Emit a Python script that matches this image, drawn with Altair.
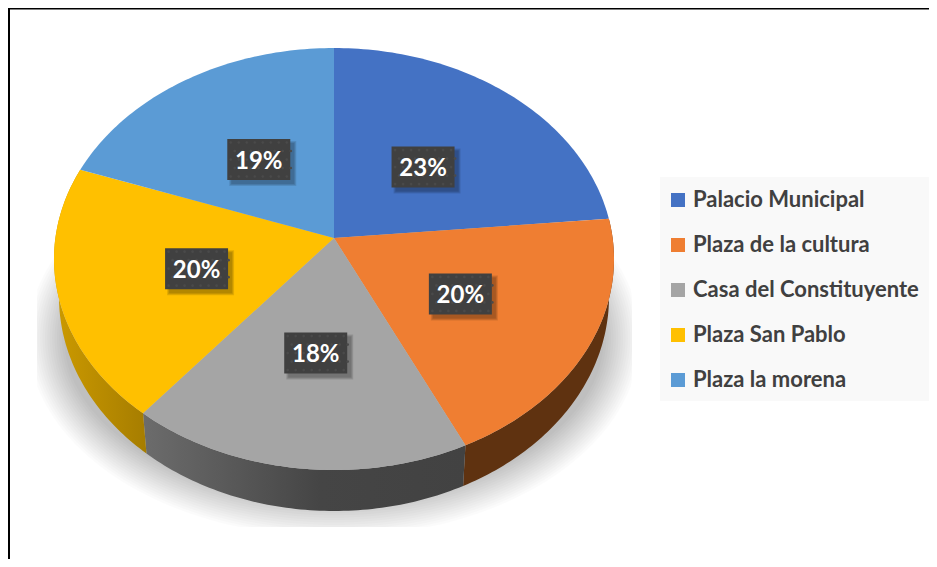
import math
import altair as alt
import pandas as pd

names = ["Palacio Municipal", "Plaza de la cultura", "Casa del Constituyente", "Plaza San Pablo", "Plaza la morena"]
percents = [23, 20, 18, 20, 19]
# drawn sweep of each slice (degrees)
sweeps = [79, 73, 71, 72, 65]
top_colors = ["#4472c4", "#ef7e32", "#a5a5a5", "#ffc000", "#5b9bd5"]

W, H = 921, 551
APEX = (334, 238)
TOP = dict(cx=334, cy=259, rx=280, ry=211)
RIM = dict(cx=334, cy=297, rx=275, ry=214)


def on_ellipse(deg, e):
    a = math.radians(deg)
    return e["cx"] + e["rx"] * math.sin(a), e["cy"] - e["ry"] * math.cos(a)


def wedge_rows(name, a0, a1, e, apex):
    rows = [dict(name=name, i=0, x=apex[0], y=apex[1])]
    n = max(2, int(a1 - a0))
    for k in range(n + 1):
        x, y = on_ellipse(a0 + (a1 - a0) * k / n, e)
        rows.append(dict(name=name, i=k + 1, x=x, y=y))
    rows.append(dict(name=name, i=n + 2, x=apex[0], y=apex[1]))
    return rows


def band_rows(name, a0, a1):
    rows = []
    n = max(2, int(a1 - a0))
    for k in range(n + 1):
        x, y = on_ellipse(a0 + (a1 - a0) * k / n, TOP)
        rows.append(dict(name=name, i=k, x=x, y=y))
    for k in range(n + 1):
        x, y = on_ellipse(a1 - (a1 - a0) * k / n, RIM)
        rows.append(dict(name=name, i=n + 1 + k, x=x, y=y))
    return rows


top_rows, label_rows, dot_rows = [], [], []
rim_bands = {}
start = 0
for name, pct, sw in zip(names, percents, sweeps):
    top_rows += wedge_rows(name, start, start + sw, TOP, APEX)
    rim_bands[name] = band_rows(name, start, start + sw)
    ex, ey = on_ellipse(start + sw / 2, TOP)
    lx = APEX[0] + (ex - APEX[0]) * 0.5
    ly = APEX[1] + (ey - APEX[1]) * 0.5
    label_rows.append(dict(name=name, label=f"{pct}%", x=lx, y=ly))
    for r in range(5):
        for c in range(8):
            dot_rows.append(dict(x=lx - 28 + c * 8 + (4 if r % 2 else 0), y=ly - 17 + r * 8.5))
    start += sw

# soft shadow: stacked translucent ellipses cut flat at the picture's crop
shadow_rows = []
for s in range(16):
    e = dict(cx=334, cy=338, rx=306 - s * 2.4, ry=199 - s * 2.4)
    for k in range(181):
        x, y = on_ellipse(k * 2, e)
        shadow_rows.append(dict(layer=s, i=k, x=max(37, min(632, x)), y=min(527, y)))

x_scale = alt.Scale(domain=[8, W + 8], range=[0, W], nice=False, zero=False)
y_scale = alt.Scale(domain=[8, H + 8], range=[0, H], nice=False, zero=False)
X = alt.X("x:Q", scale=x_scale, axis=None)
Y = alt.Y("y:Q", scale=y_scale, axis=None)
legend_color = alt.Scale(domain=names, range=top_colors)

frame = pd.DataFrame([
    dict(x=8, x2=W + 8, y=8.5, y2=8.5),
    dict(x=9, x2=9, y=8, y2=H + 8),
])
frame_layer = alt.Chart(frame).mark_rule(color="#000000", strokeWidth=2).encode(
    x=X, x2="x2:Q", y=Y, y2="y2:Q")

shadow_layer = alt.Chart(pd.DataFrame(shadow_rows)).mark_line(
    fill="#000000", fillOpacity=0.0145, strokeWidth=0, stroke="transparent"
).encode(x=X, y=Y, detail="layer:N", order="i:Q")


def rim_layer(name, fill):
    return alt.Chart(pd.DataFrame(rim_bands[name])).mark_line(
        fill=fill, strokeWidth=0, stroke="transparent"
    ).encode(x=X, y=Y, order="i:Q")


orange_rim = rim_layer(names[1], "#5f3210")
grey_rim = rim_layer(names[2], alt.Gradient(
    gradient="linear", x1=0, x2=1, y1=0, y2=0,
    stops=[alt.GradientStop(offset=0, color="#6c6c6c"),
           alt.GradientStop(offset=0.55, color="#454545"),
           alt.GradientStop(offset=1, color="#424242")]))
yellow_rim = rim_layer(names[3], alt.Gradient(
    gradient="linear", x1=0, x2=1, y1=0, y2=0,
    stops=[alt.GradientStop(offset=0, color="#cc9a00"),
           alt.GradientStop(offset=1, color="#a67d00")]))

legend_back = alt.Chart(pd.DataFrame([dict(x=660, x2=W + 8, y=177, y2=401)])).mark_rect(
    color="#f9f9f9").encode(x=X, x2="x2:Q", y=Y, y2="y2:Q")

top_layer = alt.Chart(pd.DataFrame(top_rows)).mark_line(strokeWidth=0, stroke="transparent").encode(
    x=X, y=Y, order="i:Q",
    fill=alt.Fill("name:N", scale=legend_color, legend=alt.Legend(
        title=None, orient="none", legendX=659, legendY=181,
        symbolType="square", symbolSize=196, symbolStrokeWidth=0,
        labelFont="Lato", labelFontSize=22, labelFontWeight="bold", labelColor="#404040",
        labelLimit=300, rowPadding=23, labelOffset=4, padding=0,
    )),
)

labels = pd.DataFrame(label_rows)
shadows = [
    alt.Chart(labels).mark_rect(width=w, height=h, color="#000000", opacity=0.11, xOffset=4, yOffset=4).encode(x=X, y=Y)
    for w, h in ((67, 45), (65, 43), (63, 41))
]
label_box = alt.Chart(labels).mark_rect(width=63, height=41, color="#404040").encode(x=X, y=Y)
dots = alt.Chart(pd.DataFrame(dot_rows)).mark_circle(size=7, color="#4a4a4a", opacity=1).encode(x=X, y=Y)
label_text = alt.Chart(labels).mark_text(
    font="Lato", fontSize=24, fontWeight="bold", color="#ffffff", align="center", baseline="middle", dy=2
).encode(x=X, y=Y, text="label:N")

chart = alt.layer(
    frame_layer, shadow_layer, orange_rim, grey_rim, yellow_rim, legend_back, top_layer,
    *shadows, label_box, dots, label_text
).properties(
    width=W, height=H, padding=0, autosize=alt.AutoSizeParams(type="none"), background="#ffffff"
).configure_view(stroke=None)

chart.save("out.html", embed_options={"renderer": "svg", "actions": False})
